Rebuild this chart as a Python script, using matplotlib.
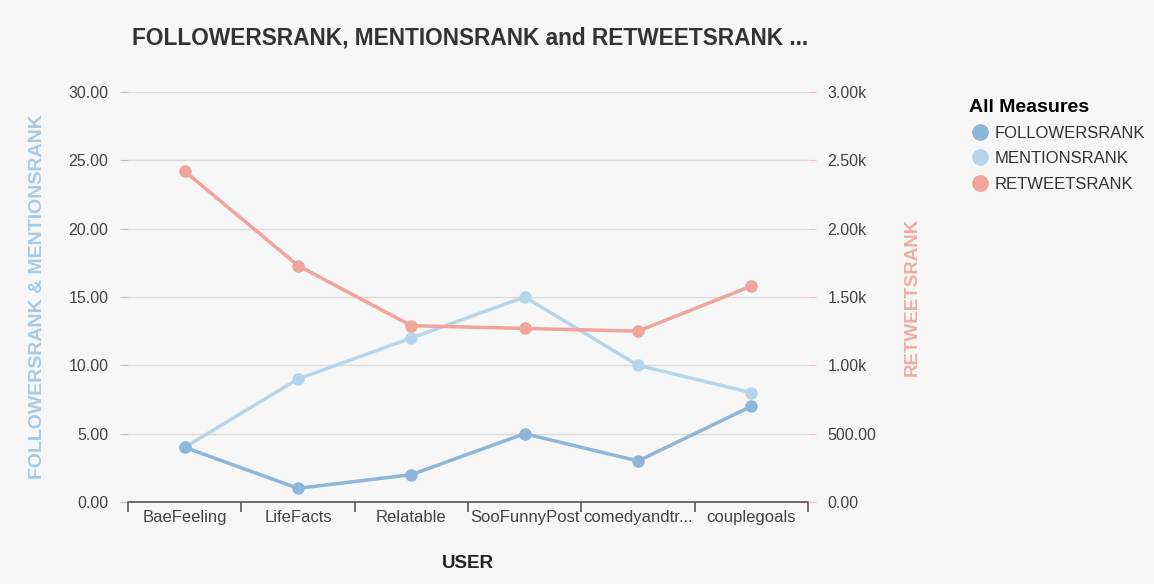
import matplotlib
matplotlib.use('Agg')
from matplotlib import pyplot as plt
from matplotlib.ticker import FuncFormatter, MultipleLocator
from matplotlib.lines import Line2D

matplotlib.rcParams['font.family'] = ['Liberation Sans', 'DejaVu Sans']

#%% Data
users = ['BaeFeeling', 'LifeFacts', 'Relatable', 'SooFunnyPost', 'comedyandtr...', 'couplegoals']
followers_rank = [4, 1, 2, 5, 3, 7]
mentions_rank = [4, 9, 12, 15, 10, 8]
retweets_rank = [2420, 1730, 1290, 1270, 1250, 1580]

c_fol = '#8db6db'
c_men = '#b7d5ea'
c_ret = '#f0a49b'
bg = '#f7f7f7'
txt = '#444444'

#%% Plot
fig = plt.figure(figsize=(11.54, 5.84), dpi=100, facecolor=bg)
ax = fig.add_axes([128/1154, 1-502/584, 680/1154, 410/584])
ax.set_facecolor(bg)
x = list(range(len(users)))

ax.plot(x, mentions_rank, '-o', color=c_men, lw=2.5, ms=8, zorder=3)
ax.plot(x, followers_rank, '-o', color=c_fol, lw=2.5, ms=8, zorder=4)
ax.set_xlim(-0.5, len(users)-0.5)
ax.set_ylim(0, 30)
ax.yaxis.set_major_locator(MultipleLocator(5))
ax.yaxis.set_major_formatter(FuncFormatter(lambda v, p: f'{v:.2f}'))
ax.grid(axis='y', color='#dcdcdc', lw=1)
ax.set_axisbelow(True)

ax2 = ax.twinx()
ax2.plot(x, retweets_rank, '-o', color=c_ret, lw=2.5, ms=8, zorder=3)
ax2.set_ylim(0, 3000)
ax2.yaxis.set_major_locator(MultipleLocator(500))
ax2.yaxis.set_major_formatter(FuncFormatter(lambda v, p: f'{v:.2f}' if v < 1000 else f'{v/1000:.2f}k'))

for a in (ax, ax2):
    for s in ['left', 'right', 'top']:
        a.spines[s].set_visible(False)
ax2.spines['bottom'].set_visible(False)
ax.spines['bottom'].set_color('#555555')
ax.spines['bottom'].set_linewidth(1.2)

ax.set_xticks([i - 0.5 for i in range(len(users)+1)])
ax.set_xticklabels([])
ax.set_xticks(x, minor=True)
ax.set_xticklabels(users, minor=True)
ax.tick_params(axis='x', which='major', length=7, width=1.2, color='#555555', direction='out')
ax.tick_params(axis='x', which='minor', length=0, pad=6, labelsize=12, labelcolor=txt)
ax.tick_params(axis='y', length=6, color='#bbbbbb', pad=8, labelsize=11.5, labelcolor=txt)
ax2.tick_params(axis='y', length=6, color='#f2c2bc', pad=8, labelsize=11.5, labelcolor=txt)

ax.set_ylabel('FOLLOWERSRANK & MENTIONSRANK', color='#a9cae3', fontsize=14, fontweight='bold', labelpad=16)
ax2.set_ylabel('RETWEETSRANK', color='#f2aaa3', fontsize=13.5, fontweight='bold', labelpad=20)
ax.set_xlabel('USER', color='#222222', fontsize=13.5, fontweight='bold', labelpad=21)

fig.text(470/1154, 1-38/584, 'FOLLOWERSRANK, MENTIONSRANK and RETWEETSRANK ...', ha='center', va='center',
         fontsize=16.3, fontweight='bold', color='#333333')

handles = [Line2D([], [], marker='o', ls='', ms=11, color=c) for c in (c_fol, c_men, c_ret)]
leg = fig.legend(handles, ['FOLLOWERSRANK', 'MENTIONSRANK', 'RETWEETSRANK'], title='All Measures',
                 loc='upper left', bbox_to_anchor=(962/1154, 1-92/584), frameon=False,
                 fontsize=12, title_fontsize=14, handletextpad=0.15, labelspacing=0.62,
                 handlelength=1.4, borderaxespad=0)
leg.get_title().set_fontweight('bold')
leg._legend_box.align = 'left'
for t in leg.get_texts():
    t.set_color('#333333')

fig.savefig('out.png', dpi=100, facecolor=bg)
